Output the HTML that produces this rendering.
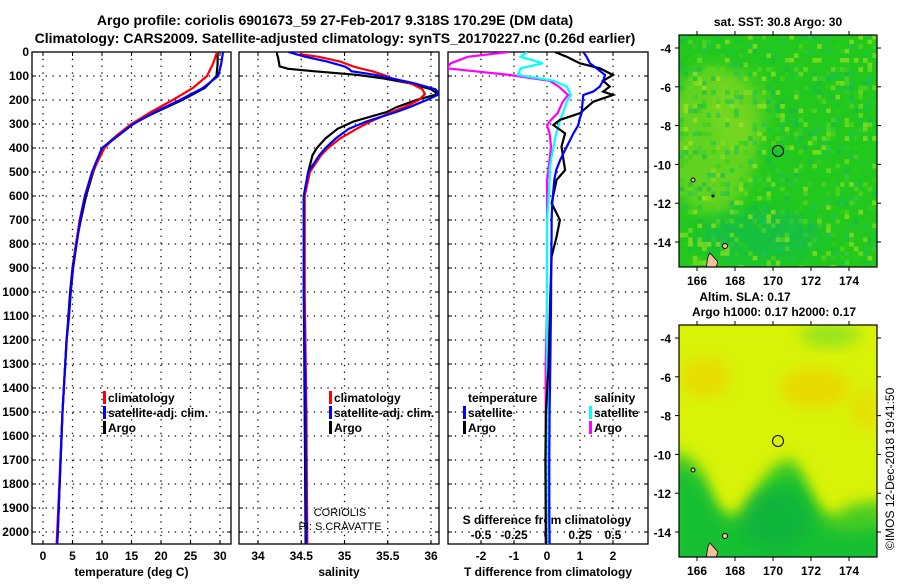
<!DOCTYPE html>
<html><head><meta charset="utf-8"><style>
body{margin:0;background:#fff;width:900px;height:580px;overflow:hidden}
svg{font-family:"Liberation Sans",sans-serif;font-weight:bold}
</style></head><body>
<svg id="c" width="900" height="580" viewBox="0 0 900 580">
<defs>
<filter id="bl" x="-30%" y="-30%" width="160%" height="160%"><feGaussianBlur stdDeviation="7"/></filter>
<clipPath id="cp1"><rect x="32" y="52" width="199" height="492"/></clipPath>
<clipPath id="cp2"><rect x="239" y="52" width="200" height="492"/></clipPath>
<clipPath id="cp3"><rect x="448" y="52" width="200" height="492"/></clipPath>
<clipPath id="cm1"><rect x="679" y="35" width="198" height="232"/></clipPath>
<clipPath id="cm2"><rect x="679" y="325" width="198" height="232"/></clipPath>
</defs>
<text x="335" y="25" font-size="14" text-anchor="middle">Argo profile: coriolis 6901673_59 27-Feb-2017 9.318S 170.29E (DM data)</text>
<text x="335" y="43" font-size="14" text-anchor="middle">Climatology: CARS2009. Satellite-adjusted climatology: synTS_20170227.nc (0.26d earlier)</text>

<g id="maps">
<g clip-path="url(#cm1)">
<rect x="679" y="35" width="198" height="232" fill="#22c81e"/>
<ellipse cx="712" cy="140" rx="45" ry="75" fill="#98dc20" filter="url(#bl)" opacity="0.55"/>
<ellipse cx="740" cy="110" rx="30" ry="40" fill="#98dc20" filter="url(#bl)" opacity="0.35"/>
<ellipse cx="760" cy="235" rx="60" ry="25" fill="#10b860" filter="url(#bl)" opacity="0.5"/>
<g id="noise"></g>
<path d="M707 290 Q705 258 710 253 L718 262 L715 270 Z" fill="#f4c09c" stroke="#000" stroke-width="0.8"/>
<circle cx="725" cy="246" r="2.5" fill="#f4c09c" stroke="#000"/>
<circle cx="693" cy="180" r="2" fill="#f4c09c" stroke="#000"/>
<circle cx="713" cy="196" r="1.5" fill="#000"/>
</g>
<rect x="679" y="35" width="198" height="232" fill="none" stroke="#000" stroke-width="1.2"/>
<circle cx="778" cy="151" r="5.5" fill="none" stroke="#000" stroke-width="1"/>
<text x="778" y="26" font-size="12" text-anchor="middle">sat. SST: 30.8 Argo: 30</text>

<g clip-path="url(#cm2)">
<rect x="679" y="325" width="198" height="232" fill="#d8f208"/>
<ellipse cx="705" cy="378" rx="25" ry="20" fill="#ecd800" filter="url(#bl)" opacity="0.8"/>
<ellipse cx="815" cy="388" rx="35" ry="20" fill="#ecd400" filter="url(#bl)" opacity="0.8"/>
<ellipse cx="865" cy="410" rx="15" ry="20" fill="#eada00" filter="url(#bl)" opacity="0.7"/>
<ellipse cx="830" cy="335" rx="30" ry="12" fill="#88e020" filter="url(#bl)" opacity="0.8"/>
<path d="M670 452 Q700 452 708 490 Q718 525 745 510 Q770 455 795 460 Q805 480 815 500 Q830 525 850 505 L885 500 L885 570 L670 570 Z" fill="#48cc20" filter="url(#bl)"/>
<path d="M670 470 Q700 470 712 500 Q725 530 750 520 Q775 470 795 475 Q810 500 820 520 Q835 540 885 525 L885 570 L670 570 Z" fill="#18c030" filter="url(#bl)"/>
<ellipse cx="775" cy="520" rx="35" ry="30" fill="#10b040" filter="url(#bl)" opacity="0.7"/>
<path d="M707 580 Q705 548 710 543 L718 552 L715 560 Z" fill="#f4c09c" stroke="#000" stroke-width="0.8"/>
<circle cx="725" cy="536" r="2.5" fill="#f4c09c" stroke="#000"/>
<circle cx="693" cy="470" r="2" fill="#f4c09c" stroke="#000"/>
</g>
<rect x="679" y="325" width="198" height="232" fill="none" stroke="#000" stroke-width="1.2"/>
<circle cx="778" cy="441" r="5.5" fill="none" stroke="#000" stroke-width="1"/>
<text x="745" y="301" font-size="12" text-anchor="middle">Altim. SLA: 0.17</text>
<text x="774" y="316" font-size="12" text-anchor="middle">Argo h1000: 0.17 h2000: 0.17</text>
<text transform="translate(894,550) rotate(-90)" font-size="12" font-weight="normal">©IMOS 12-Dec-2018 19:41:50</text>
</g>
<g id="axes"></g>
<g id="series"></g>
</svg>
<script>
// ---- data (depth in dbar) ----
const tempDepth = [0,50,100,150,200,250,300,350,400,500,600,700,800,900,1000,1100,1200,1500,2000,2050];
const tempClim  = [29.5,28.8,27.8,25.4,22.0,18.3,15.0,12.4,10.4,8.4,7.1,6.2,5.6,5.1,4.7,4.4,4.0,3.3,2.4,2.3];
const tempSat   = [30.5,30.2,29.7,27.1,23.2,19.0,15.3,12.7,10.0,8.3,7.1,6.3,5.7,5.1,4.7,4.4,4.0,3.3,2.5,2.4];
const tempArgo  = [29.6,29.6,29.4,27.4,23.6,19.2,15.0,12.4,10.1,8.5,7.3,6.4,5.6,5.0,4.6,4.3,4.0,3.3,2.5,2.4];

const salDepth  = [0,10,20,40,60,70,80,95,110,130,155,175,200,230,250,290,320,360,400,430,500,600,1000,1500,2050];
const salClim   = [34.49,34.5,34.7,34.95,35.1,35.2,35.32,35.45,35.55,35.76,35.9,35.93,35.86,35.69,35.55,35.3,35.14,34.95,34.81,34.73,34.6,34.54,34.54,34.56,34.57];
const salSat    = [34.35,34.45,34.55,34.8,35.0,35.05,35.08,35.35,35.55,35.8,36.05,36.1,35.95,35.75,35.6,35.25,35.05,34.9,34.78,34.71,34.58,34.53,34.53,34.55,34.56];
const salArgo   = [34.22,34.22,34.23,34.24,34.25,34.35,34.64,35.14,35.45,35.75,36.0,36.08,35.83,35.6,35.49,35.1,34.92,34.78,34.68,34.63,34.58,34.53,34.53,34.54,34.55];

const dDepth    = [0,20,47,68,96,120,144,165,179,207,255,283,304,339,394,450,492,533,630,700,769,853,1061,1300,1500,1700,1900,2050];
const dTArgo    = [0.24,0.6,1.0,1.6,2.0,1.7,1.9,1.7,2.0,1.4,1.0,0.39,0.19,0.55,0.44,0.5,0.55,0.29,0.14,0.39,0.29,0.14,0.09,0.05,-0.03,-0.05,-0.04,-0.03];
const dTSat     = [1.1,1.2,1.3,1.5,1.76,1.7,1.6,1.4,1.1,1.08,1.05,0.98,0.95,0.8,0.6,0.4,0.28,0.22,0.16,0.14,0.14,0.13,0.12,0.1,0.08,0.07,0.07,0.08];
const dSArgo    = [-0.29,-0.6,-0.73,-0.76,-0.28,0.02,0.09,0.13,0.16,0.12,0.08,0.03,0.0,0.02,0.03,0.02,0.01,0.0,0.0,0.0,0.0,0.0,0.0,-0.01,-0.01,-0.01,-0.01,-0.01];
const dSSat     = [-0.15,-0.2,-0.03,-0.2,-0.22,0.05,0.15,0.17,0.18,0.15,0.12,0.1,0.09,0.07,0.05,0.03,0.02,0.02,0.01,0.0,0.0,0.0,0.0,0.0,0.01,0.01,0.01,0.01];

const depthTicks = [0,100,200,300,400,500,600,700,800,900,1000,1100,1200,1300,1400,1500,1600,1700,1800,1900,2000];
const tempTicks = [0,5,10,15,20,25,30];
const salTicks = [34,34.5,35,35.5,36];
const salTickLabels = ["34","34.5","35","35.5","36"];
const dTTicks = [-2,-1,0,1,2];
const dSTicks = [-0.5,-0.25,0,0.25,0.5];
const dSTickLabels = ["-0.5","-0.25","0","0.25","0.5"];
const latTicks = [-4,-6,-8,-10,-12,-14];
const lonTicks = [166,168,170,172,174];

// ---- scales ----
const yD = d => 52 + d*0.24;
const xT = t => 43 + t*5.9;
const xS = s => 258 + (s-34)*86.5;
const xDT = t => 547 + t*33;
const xDS = s => 547 + s*132;
const lonX = l => 697 + (l-166)*19;
const latY = (l,top) => top + 13 + (-4-l)*19.4;

const NS="http://www.w3.org/2000/svg";
function mk(tag, parent, attrs){const e=document.createElementNS(NS,tag);for(const k in attrs)e.setAttribute(k,attrs[k]);parent.appendChild(e);return e;}
const axes=document.getElementById('axes'), series=document.getElementById('series');

const panels=[
 {x0:32,x1:231,name:'temperature-panel',ticks:tempTicks,labels:tempTicks.map(String),sx:xT,title:'temperature (deg C)'},
 {x0:239,x1:439,name:'salinity-panel',ticks:salTicks,labels:salTickLabels,sx:xS,title:'salinity'},
 {x0:448,x1:648,name:'difference-panel',ticks:dTTicks,labels:dTTicks.map(String),sx:xDT,title:'T difference from climatology'}
];
panels.forEach((p,i)=>{
  const g=mk('g',axes,{});
  
  
  depthTicks.forEach(d=>{
    if(d>0) mk('line',g,{x1:p.x0,x2:p.x1,y1:yD(d),y2:yD(d),stroke:'#000','stroke-width':1.3,'stroke-dasharray':'1.3 5.5'});
    mk('line',g,{x1:p.x0,x2:p.x0+4,y1:yD(d),y2:yD(d),stroke:'#000'});
    mk('line',g,{x1:p.x1-4,x2:p.x1,y1:yD(d),y2:yD(d),stroke:'#000'});
  });
  p.ticks.forEach((t,j)=>{
    const x=p.sx(t);
    mk('line',g,{x1:x,x2:x,y1:52,y2:544,stroke:'#000','stroke-width':1.3,'stroke-dasharray':'1.3 5.5'});
    mk('line',g,{x1:x,x2:x,y1:52,y2:56,stroke:'#000'});
    mk('line',g,{x1:x,x2:x,y1:540,y2:544,stroke:'#000'});
    const tx=mk('text',g,{x:x,y:560,'font-size':12,'text-anchor':'middle'});tx.textContent=p.labels[j];
  });
  mk('rect',g,{x:p.x0,y:52,width:p.x1-p.x0,height:492,fill:'none',stroke:'#000','stroke-width':1.3});
  const tt=mk('text',g,{x:(p.x0+p.x1)/2,y:576,'font-size':12,'text-anchor':'middle'});tt.textContent=p.title;
});
depthTicks.forEach(d=>{
  const t=mk('text',axes,{x:29,y:yD(d)+4,'font-size':12,'text-anchor':'end'});
  
  
  t.textContent=String(d);
});
dSTicks.forEach((s,j)=>{const t=mk('text',axes,{x:xDS(s),y:539,'font-size':12,'text-anchor':'middle'});t.textContent=dSTickLabels[j];});
const st=mk('text',axes,{x:547,y:524,'font-size':12,'text-anchor':'middle'});st.textContent='S difference from climatology';
[35,325].forEach(top=>{
  latTicks.forEach(l=>{const y=latY(l,top);
    mk('line',axes,{x1:675,x2:679,y1:y,y2:y,stroke:'#000'});mk('line',axes,{x1:877,x2:881,y1:y,y2:y,stroke:'#000'});
    const t=mk('text',axes,{x:671,y:y+5,'font-size':12,'text-anchor':'end'});t.textContent=String(l);});
  lonTicks.forEach(l=>{const x=lonX(l);
    mk('line',axes,{x1:x,x2:x,y1:top-4,y2:top,stroke:'#000'});mk('line',axes,{x1:x,x2:x,y1:top+232,y2:top+236,stroke:'#000'});
    const t=mk('text',axes,{x:x,y:top+250,'font-size':12,'text-anchor':'middle'});t.textContent=String(l);});
});
// SST texture (decorative mottling)
const noise=document.getElementById('noise');
const pal=['#30d010','#60d820','#10c840','#90e020','#20c060','#b0e420','#40cc30','#18b850'];
let h=7;
for(let y=35;y<267;y+=4.6){for(let x=679;x<877;x+=4.6){h=(h*1103515245+12345)&0x7fffffff;
  if((h>>8)%3===0){mk('rect',noise,{x:x,y:y,width:4.6,height:4.6,fill:pal[(h>>12)%8],opacity:0.6});}}}

function line(parent,sx,vals,depths,color,clip,name){
  const pts=vals.map((v,i)=>sx(v).toFixed(1)+','+yD(depths[i]).toFixed(1)).join(' ');
  const pl=mk('polyline',parent,{points:pts,fill:'none',stroke:color,'stroke-width':2.2,'clip-path':'url(#'+clip+')'});
  
  
}
line(series,xT,tempArgo,tempDepth,'#000','cp1','temp-argo-line');
line(series,xT,tempClim,tempDepth,'#f00','cp1','temp-climatology-line');
line(series,xT,tempSat,tempDepth,'#00f','cp1','temp-satellite-line');
line(series,xS,salArgo,salDepth,'#000','cp2','sal-argo-line');
line(series,xS,salClim,salDepth,'#f00','cp2','sal-climatology-line');
line(series,xS,salSat,salDepth,'#00f','cp2','sal-satellite-line');
line(series,xDS,dSArgo,dDepth,'#f0f','cp3','sdiff-argo-line');
line(series,xDS,dSSat,dDepth,'#0ff','cp3','sdiff-satellite-line');
line(series,xDT,dTArgo,dDepth,'#000','cp3','tdiff-argo-line');
line(series,xDT,dTSat,dDepth,'#00f','cp3','tdiff-satellite-line');

function legend(x,y,items,name){
  const g=mk('g',series,{});
  
  
  items.forEach((it,i)=>{
    const yy=y+i*15;
    if(it[1]){mk('rect',g,{x:x-5,y:yy-6,width:3,height:13,fill:it[1]});}
    const t=mk('text',g,{x:x,y:yy+5,'font-size':12});t.textContent=it[0];
  });
}
legend(108,397,[['climatology','#f00'],['satellite-adj. clim.','#00f'],['Argo','#000']],'temp-legend');
legend(334,397,[['climatology','#f00'],['satellite-adj. clim.','#00f'],['Argo','#000']],'sal-legend');
legend(468,397,[['temperature',null],['satellite','#00f'],['Argo','#000']],'tdiff-legend');
legend(594,397,[['salinity',null],['satellite','#0ff'],['Argo','#f0f']],'sdiff-legend');
const c1=mk('text',series,{x:340,y:516,'font-size':11,'font-weight':'normal','text-anchor':'middle'});c1.textContent='CORIOLIS';
const c2=mk('text',series,{x:340,y:530,'font-size':11,'font-weight':'normal','text-anchor':'middle'});c2.textContent='PI: S.CRAVATTE';
</script>
</body></html>
